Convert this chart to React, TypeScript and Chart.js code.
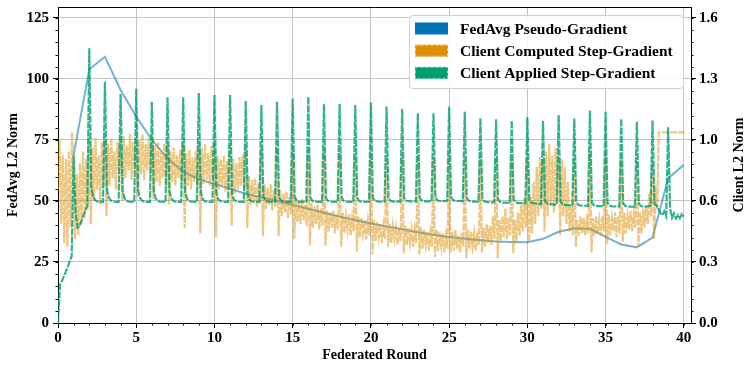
import React, { useEffect, useRef } from "react";
import { Chart, registerables } from "chart.js";

Chart.register(...registerables);

const FONT = "'Liberation Serif', 'Times New Roman', serif";

// ---- axes ----
const X_TICKS = [0, 5, 10, 15, 20, 25, 30, 35, 40];
const X_MINOR_TICKS = [0,1,2,3,4,5,6,7,8,9,10,11,12,13,14,15,16,17,18,19,20,21,22,23,24,25,26,27,28,29,30,31,32,33,34,35,36,37,38,39,40];
const LEFT_TICKS = [0, 25, 50, 75, 100, 125];
const LEFT_MINOR_TICKS = [0,5,10,15,20,25,30,35,40,45,50,55,60,65,70,75,80,85,90,95,100,105,110,115,120,125];
const RIGHT_TICKS = [0, 0.32, 0.64, 0.96, 1.28, 1.6];
const RIGHT_TICK_LABELS = ["0.0", "0.3", "0.6", "1.0", "1.3", "1.6"];
const RIGHT_MINOR_TICKS = [0,0.064,0.128,0.192,0.256,0.32,0.384,0.448,0.512,0.576,0.64,0.704,0.768,0.832,0.896,0.96,1.024,1.088,1.152,1.216,1.28,1.344,1.408,1.472,1.536,1.6];
const X_MAX = 40.46;
const LEFT_MAX = 129.5;
const RIGHT_MAX = 1.6576;

// ---- labels ----
const SERIES_LABELS = ["FedAvg Pseudo-Gradient", "Client Computed Step-Gradient", "Client Applied Step-Gradient"];
const X_TITLE = "Federated Round";
const LEFT_TITLE = "FedAvg L2 Norm";
const RIGHT_TITLE = "Client L2 Norm";

// ---- FedAvg pseudo-gradient (left axis), one value per round ----
const BLUE_ROUNDS = [1,2,3,4,5,6,7,8,9,10,11,12,13,14,15,16,17,18,19,20,21,22,23,24,25,26,27,28,29,30,31,32,33,34,35,36,37,38,39,40];
const BLUE_VALUES = [68.9,104,109.1,95.5,84.6,75,67.5,62,58.9,57,55,53,51.5,50,48.4,46.8,45.2,43.6,42.2,40.8,39.6,38.4,37.2,36.2,35.2,34.5,33.9,33.4,33.2,33.1,34.5,37.4,38.8,38.6,35.3,32.2,31,35,59.3,64.8];

// ---- Client computed step-gradient (right axis), 10 steps per round ----
const ORANGE_ROUNDS = [
  [0.70,0.96,0.52,0.88,0.42,0.86,0.40,0.90,0.50,1.00],
  [0.80,0.44,0.78,0.46,0.84,0.52,0.90,0.55,0.86,0.60],
  [0.98,0.52,0.92,0.64,0.97,0.70,0.88,0.62,0.95,0.72],
  [0.96,0.56,0.94,0.72,0.97,0.76,0.90,0.70,0.95,0.78],
  [0.97,0.64,0.98,0.76,0.93,0.80,0.99,0.75,0.95,0.82],
  [0.97,0.66,0.96,0.78,0.99,0.75,0.94,0.80,0.97,0.77],
  [0.95,0.65,0.93,0.74,0.95,0.72,0.90,0.76,0.94,0.71],
  [0.94,0.62,0.90,0.74,0.92,0.72,0.88,0.76,0.91,0.73],
  [0.94,0.50,0.89,0.72,0.91,0.70,0.87,0.74,0.90,0.72],
  [0.95,0.47,0.92,0.73,0.94,0.75,0.89,0.72,0.93,0.76],
  [0.94,0.45,0.88,0.70,0.86,0.72,0.88,0.69,0.85,0.71],
  [0.93,0.51,0.86,0.68,0.84,0.70,0.87,0.72,0.88,0.70],
  [0.92,0.50,0.77,0.62,0.75,0.64,0.76,0.61,0.73,0.63],
  [0.92,0.455,0.73,0.60,0.71,0.62,0.73,0.59,0.70,0.61],
  [0.91,0.455,0.70,0.56,0.68,0.58,0.69,0.55,0.66,0.57],
  [0.91,0.44,0.66,0.53,0.64,0.52,0.65,0.54,0.62,0.51],
  [0.90,0.405,0.63,0.50,0.61,0.52,0.62,0.49,0.60,0.51],
  [0.90,0.405,0.59,0.48,0.58,0.50,0.59,0.47,0.57,0.49],
  [0.89,0.40,0.58,0.47,0.56,0.49,0.57,0.46,0.55,0.48],
  [0.89,0.375,0.56,0.45,0.55,0.47,0.54,0.44,0.53,0.46],
  [0.89,0.36,0.54,0.43,0.53,0.45,0.52,0.42,0.51,0.44],
  [0.88,0.40,0.52,0.42,0.51,0.44,0.50,0.41,0.50,0.43],
  [0.88,0.365,0.51,0.41,0.50,0.42,0.49,0.40,0.49,0.42],
  [0.87,0.36,0.50,0.39,0.49,0.41,0.48,0.38,0.47,0.40],
  [0.87,0.345,0.49,0.38,0.48,0.40,0.47,0.37,0.46,0.39],
  [0.88,0.37,0.48,0.38,0.49,0.39,0.46,0.37,0.47,0.40],
  [0.87,0.34,0.49,0.39,0.48,0.40,0.47,0.38,0.48,0.41],
  [0.86,0.37,0.50,0.40,0.52,0.42,0.51,0.41,0.56,0.44],
  [0.86,0.34,0.54,0.43,0.56,0.45,0.60,0.44,0.55,0.46],
  [0.86,0.366,0.54,0.43,0.58,0.46,0.62,0.48,0.66,0.50],
  [0.87,0.426,0.66,0.47,0.74,0.52,0.82,0.56,0.87,0.60],
  [0.86,0.48,0.90,0.56,0.94,0.62,0.88,0.58,0.92,0.64],
  [0.87,0.46,0.86,0.56,0.82,0.52,0.74,0.48,0.62,0.46],
  [0.86,0.40,0.54,0.46,0.56,0.47,0.55,0.46,0.54,0.47],
  [0.89,0.37,0.55,0.46,0.56,0.47,0.54,0.46,0.56,0.48],
  [0.89,0.416,0.57,0.46,0.55,0.48,0.58,0.45,0.56,0.47],
  [0.86,0.426,0.58,0.47,0.56,0.49,0.59,0.48,0.57,0.50],
  [0.85,0.40,0.58,0.47,0.60,0.50,0.61,0.52,0.68,0.56],
  [0.85,0.44,0.72,0.60,1.00,1.00,1.00,1.00,1.00,1.00],
  [1.00,1.00,1.00,1.00,1.00,1.00,1.00,1.00,1.00,1.00],
];
const ORANGE_LAST_ROUND = 40.05;
const ORANGE_LAST_VALUE = 1.0;

// ---- Client applied step-gradient (right axis), 8 steps per round ----
const GREEN_ROUNDS = [
  [0.000,0.200,0.220,0.245,0.270,0.295,0.325,0.350],
  [0.880,0.580,0.500,0.510,0.535,0.565,0.590,0.615],
  [1.441,0.710,0.662,0.645,0.638,0.636,0.636,0.635],
  [1.266,0.700,0.658,0.643,0.638,0.636,0.635,0.635],
  [1.203,0.695,0.655,0.642,0.637,0.636,0.635,0.635],
  [1.229,0.695,0.655,0.642,0.637,0.636,0.635,0.635],
  [1.161,0.690,0.652,0.641,0.637,0.636,0.635,0.635],
  [1.184,0.690,0.652,0.641,0.637,0.636,0.635,0.635],
  [1.184,0.688,0.650,0.640,0.637,0.636,0.635,0.635],
  [1.206,0.685,0.650,0.640,0.637,0.636,0.635,0.635],
  [1.196,0.680,0.648,0.640,0.637,0.636,0.635,0.635],
  [1.196,0.675,0.646,0.639,0.636,0.635,0.635,0.635],
  [1.165,0.670,0.645,0.639,0.636,0.635,0.635,0.635],
  [1.143,0.665,0.644,0.638,0.636,0.635,0.635,0.635],
  [1.161,0.662,0.643,0.638,0.636,0.635,0.635,0.635],
  [1.178,0.660,0.642,0.637,0.636,0.635,0.635,0.635],
  [1.187,0.660,0.642,0.637,0.636,0.635,0.635,0.635],
  [1.149,0.658,0.641,0.637,0.636,0.635,0.635,0.635],
  [1.149,0.658,0.641,0.637,0.636,0.635,0.635,0.635],
  [1.143,0.656,0.640,0.637,0.636,0.635,0.636,0.636],
  [1.157,0.656,0.641,0.638,0.637,0.636,0.636,0.636],
  [1.135,0.656,0.641,0.638,0.637,0.637,0.637,0.637],
  [1.123,0.656,0.642,0.639,0.638,0.637,0.638,0.638],
  [1.100,0.656,0.642,0.639,0.638,0.638,0.638,0.638],
  [1.100,0.658,0.643,0.640,0.639,0.639,0.639,0.640],
  [1.135,0.660,0.645,0.641,0.640,0.640,0.639,0.639],
  [1.108,0.656,0.642,0.638,0.637,0.637,0.636,0.636],
  [1.074,0.652,0.638,0.635,0.634,0.634,0.633,0.633],
  [1.069,0.650,0.636,0.632,0.631,0.631,0.630,0.630],
  [1.061,0.647,0.633,0.630,0.629,0.629,0.628,0.628],
  [1.079,0.645,0.631,0.628,0.627,0.626,0.625,0.624],
  [1.061,0.640,0.627,0.624,0.622,0.622,0.621,0.620],
  [1.091,0.636,0.623,0.620,0.618,0.618,0.617,0.617],
  [1.074,0.633,0.620,0.617,0.615,0.615,0.615,0.614],
  [1.114,0.631,0.618,0.615,0.613,0.613,0.613,0.612],
  [1.108,0.629,0.616,0.613,0.611,0.611,0.611,0.611],
  [1.071,0.628,0.615,0.612,0.610,0.610,0.610,0.610],
  [1.056,0.627,0.614,0.611,0.610,0.611,0.613,0.616],
  [1.062,0.625,0.616,0.598,0.578,0.566,0.586,0.560],
  [1.027,0.600,0.552,0.575,0.548,0.566,0.550,0.572],
];
const GREEN_LAST_ROUND = 40.0;
const GREEN_LAST_VALUE = 0.558;

// ---- colours ----
const BLUE = "#0173B2";
const ORANGE = "#DE8F05";
const GREEN = "#029E73";

function stepsToPoints(rows: number[][], lastX: number, lastY: number) {
  const pts: { x: number; y: number }[] = [];
  rows.forEach((row, r) => {
    row.forEach((v, i) => pts.push({ x: r + i / row.length, y: v }));
  });
  pts.push({ x: lastX, y: lastY });
  return pts;
}

const decorPlugin = {
  id: "decor",
  afterDraw(chart: any) {
    const ctx: CanvasRenderingContext2D = chart.ctx;
    const { left, right, top, bottom } = chart.chartArea;
    const xs = chart.scales.x;
    const yl = chart.scales.y;
    const yr = chart.scales.y1;
    ctx.save();
    ctx.strokeStyle = "#000";
    ctx.lineWidth = 1;
    const ty = Math.round(top) + 0.5;
    ctx.beginPath();
    ctx.moveTo(left, ty);
    ctx.lineTo(right, ty);
    ctx.stroke();
    ctx.beginPath();
    X_MINOR_TICKS.forEach((v) => {
      const px = Math.round(xs.getPixelForValue(v)) + 0.5;
      ctx.moveTo(px, bottom);
      ctx.lineTo(px, bottom + 2.5);
    });
    LEFT_MINOR_TICKS.forEach((v) => {
      const py = Math.round(yl.getPixelForValue(v)) + 0.5;
      ctx.moveTo(left - 2.5, py);
      ctx.lineTo(left, py);
    });
    RIGHT_MINOR_TICKS.forEach((v) => {
      const py = Math.round(yr.getPixelForValue(v)) + 0.5;
      ctx.moveTo(right, py);
      ctx.lineTo(right + 2.5, py);
    });
    ctx.stroke();
    ctx.save();
    ctx.translate(739, (top + bottom) / 2);
    ctx.rotate(-Math.PI / 2);
    ctx.fillStyle = "#000";
    ctx.font = `bold 14px ${FONT}`;
    ctx.textAlign = "center";
    ctx.textBaseline = "middle";
    ctx.fillText(RIGHT_TITLE, 0, 0);
    ctx.restore();
    const bx = 409.5, by = 15.5, bw = 274, bh = 73;
    ctx.beginPath();
    ctx.roundRect(bx, by, bw, bh, 3);
    ctx.fillStyle = "rgba(255,255,255,0.85)";
    ctx.fill();
    ctx.strokeStyle = "#d0d0d0";
    ctx.stroke();
    const colors = [BLUE, ORANGE, GREEN];
    ctx.font = `bold 15.5px ${FONT}`;
    ctx.textAlign = "left";
    ctx.textBaseline = "middle";
    SERIES_LABELS.forEach((label, i) => {
      const cy = 28.5 + i * 22.2;
      ctx.fillStyle = colors[i];
      ctx.fillRect(415, cy - 6, 33, 12);
      if (i > 0) {
        ctx.save();
        ctx.setLineDash([3, 2]);
        ctx.strokeStyle = "rgba(255,255,255,0.55)";
        ctx.lineWidth = 1;
        ctx.strokeRect(415.5, cy - 5.5, 32, 11);
        ctx.restore();
      }
      ctx.fillStyle = "#000";
      ctx.fillText(label, 460, cy + 1);
    });
    ctx.restore();
  },
};

export default function App() {
  const ref = useRef<HTMLCanvasElement>(null);
  useEffect(() => {
    const blueData = BLUE_ROUNDS.map((r, i) => ({ x: r, y: BLUE_VALUES[i] }));
    const orangeData = stepsToPoints(ORANGE_ROUNDS, ORANGE_LAST_ROUND, ORANGE_LAST_VALUE);
    const greenData = stepsToPoints(GREEN_ROUNDS, GREEN_LAST_ROUND, GREEN_LAST_VALUE);
    const tickFont = { family: FONT, size: 15, weight: "bold" as const };
    const titleFont = { family: FONT, size: 14, weight: "bold" as const };
    const chart = new Chart(ref.current!, {
      type: "line",
      data: {
        datasets: [
          {
            label: SERIES_LABELS[0],
            data: blueData,
            yAxisID: "y",
            borderColor: "rgba(1,115,178,0.55)",
            borderWidth: 2,
            pointRadius: 0,
            tension: 0,
            order: 3,
          },
          {
            label: SERIES_LABELS[1],
            data: orangeData,
            yAxisID: "y1",
            borderColor: "rgba(222,143,5,0.5)",
            borderWidth: 2.2,
            borderDash: [7, 1.2],
            pointRadius: 0,
            tension: 0,
            order: 2,
          },
          {
            label: SERIES_LABELS[2],
            data: greenData,
            yAxisID: "y1",
            borderColor: "rgba(2,158,115,0.8)",
            borderWidth: 2.2,
            borderDash: [7, 1.2],
            pointRadius: 0,
            tension: 0,
            order: 1,
          },
        ],
      },
      options: {
        responsive: false,
        animation: false,
        devicePixelRatio: 1,
        layout: { padding: { top: 7, left: 0, right: 0, bottom: 0 } },
        plugins: { legend: { display: false }, tooltip: { enabled: false } },
        scales: {
          x: {
            type: "linear",
            position: "bottom",
            min: 0,
            max: X_MAX,
            afterBuildTicks: (s: any) => {
              s.ticks = X_TICKS.map((v) => ({ value: v }));
            },
            afterFit: (s: any) => {
              s.height = 49;
              s.paddingLeft = 0;
              s.paddingRight = 0;
            },
            grid: { color: "#c4c4c4", lineWidth: 1, tickLength: 5, tickColor: "#000", drawTicks: true },
            border: { display: true, color: "#000", width: 1 },
            ticks: { font: tickFont, color: "#000", padding: 1, autoSkip: false, maxRotation: 0, callback: (v: any) => String(v) },
            title: { display: true, text: X_TITLE, font: titleFont, color: "#000", padding: { top: 0, bottom: 8 } },
          },
          y: {
            type: "linear",
            position: "left",
            min: 0,
            max: LEFT_MAX,
            afterBuildTicks: (s: any) => {
              s.ticks = LEFT_TICKS.map((v) => ({ value: v }));
            },
            afterFit: (s: any) => {
              s.width = 58;
              s.paddingTop = 0;
              s.paddingBottom = 0;
            },
            grid: { color: "#c4c4c4", lineWidth: 1, tickLength: 5, tickColor: "#000", drawTicks: true },
            border: { display: true, color: "#000", width: 1 },
            ticks: { font: tickFont, color: "#000", padding: 4, callback: (v: any) => String(v) },
            title: { display: true, text: LEFT_TITLE, font: titleFont, color: "#000", padding: { top: 5, bottom: 0 } },
          },
          y1: {
            type: "linear",
            position: "right",
            min: 0,
            max: RIGHT_MAX,
            afterBuildTicks: (s: any) => {
              s.ticks = RIGHT_TICKS.map((v) => ({ value: v }));
            },
            afterFit: (s: any) => {
              s.width = 56;
              s.paddingTop = 0;
              s.paddingBottom = 0;
            },
            grid: { drawOnChartArea: false, tickLength: 5, tickColor: "#000", drawTicks: true },
            border: { display: true, color: "#000", width: 1 },
            ticks: {
              font: tickFont,
              color: "#000",
              padding: 3,
              callback: (v: any, i: number) => RIGHT_TICK_LABELS[i],
            },
            title: { display: false },
          },
        },
      },
      plugins: [decorPlugin],
    } as any);
    return () => chart.destroy();
  }, []);
  return (
    <div style={{ position: "absolute", left: 0, top: 0, width: 747, height: 372, background: "#fff" }}>
      <canvas ref={ref} width={747} height={372} style={{ display: "block", width: 747, height: 372 }} />
    </div>
  );
}
